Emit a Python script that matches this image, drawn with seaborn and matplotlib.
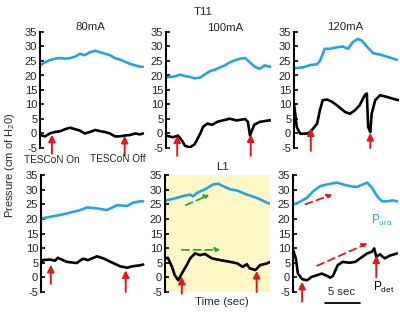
import numpy as np
import pandas as pd
import matplotlib
matplotlib.use("Agg")
import matplotlib.pyplot as plt
import seaborn as sns

sns.set_theme(style="white")
plt.rcParams['font.family'] = ['Liberation Sans', 'DejaVu Sans']
plt.rcParams['mathtext.fontset'] = 'custom'
plt.rcParams['mathtext.rm'] = 'Liberation Sans'
plt.rcParams['mathtext.it'] = 'Liberation Sans'

# ---------------- data (time in sec, pressure in cm H2O) ----------------
p1_t = [0, 0.7, 1.4, 2.1, 2.9, 3.6, 4.3, 5.0, 5.7, 6.4, 7.1, 7.9, 8.6, 9.3, 10.0, 10.7, 11.4, 12.1, 12.9, 13.6, 14.3, 14.7]
p1_ura = [23.5, 24.5, 25.3, 25.8, 26, 25.8, 26, 26.5, 27.5, 27, 28, 28.5, 28, 27.5, 27, 26, 25.5, 24.8, 24, 23.5, 23, 23]
p1_det = [-0.5, -1, 0, 0.5, 0.8, 1.5, 2, 1.5, 1, 0, 0.5, 1.2, 0.8, 0.5, 0, -1, -1, -0.7, -0.5, 0, -0.3, 0]

p2_ura_t = [0, 0.6, 1.3, 2.0, 2.7, 3.4, 4.1, 4.9, 5.6, 6.3, 7.0, 7.7, 8.4, 9.1, 9.9, 10.6, 11.3, 12.0, 12.7, 13.4, 14.1, 14.9]
p2_ura = [19.3, 19.5, 19.7, 20.3, 19.8, 19.5, 19, 19.3, 20.5, 21.5, 22, 22.8, 23.5, 24.5, 25.3, 25.8, 26, 24.5, 23, 22.3, 23.5, 23]
p2_det_t = [0, 1.0, 1.7, 2.3, 2.7, 3.4, 4.1, 4.9, 5.3, 5.9, 6.6, 7.3, 8.1, 9.1, 10.1, 11.3, 11.7, 12.0, 12.6, 13.4, 14.9]
p2_det = [-0.7, -1.3, -0.7, -2.5, -4.2, -4.8, -3.7, 0, 2.3, 3.4, 3, 4, 4.5, 5.1, 4.5, 5, 4, -0.7, 3, 4, 4.6]

p3_ura_t = [0, 1.3, 2.3, 3.3, 3.7, 4.4, 5.1, 6.1, 7.0, 7.7, 8.4, 9.1, 9.7, 10.4, 11.3, 12.3, 13.3, 14.7]
p3_ura = [22.5, 22.8, 23.6, 23.9, 25, 29.2, 29.2, 29.7, 30, 29.2, 31.5, 32.6, 32, 30, 27.7, 27.2, 26.5, 25.4]
p3_det_t = [0, 0.4, 0.9, 1.9, 2.3, 2.7, 3.3, 3.7, 4.1, 4.7, 5.4, 6.3, 7.3, 8.0, 8.7, 9.4, 10.1, 10.4, 10.6, 10.9, 11.1, 11.6, 12.3, 13.3, 14.1, 14.9]
p3_det = [10.3, 2.2, -0.1, 0, 0.5, 1.6, 3.4, 8, 11.5, 11.7, 11, 9.4, 7.4, 6.8, 8, 9.8, 13.2, 13.8, 2.2, 0.5, 6.8, 11.5, 13.2, 12.6, 12, 11.5]

p4_ura_t = [0, 1.3, 2.7, 4.1, 5.6, 6.6, 8.0, 9.4, 10.9, 12.3, 13.1, 14.1, 14.6]
p4_ura = [20.1, 20.7, 21.3, 22.1, 23, 23.9, 23.6, 23, 24.7, 24.4, 25.5, 26, 26]
p4_det_t = [0, 0.3, 1.3, 2, 2.4, 3.7, 5.1, 6, 6.7, 8, 8.9, 10.3, 11.3, 12.3, 13.1, 14.1, 14.6]
p4_det = [4.7, 5.9, 6.1, 5.7, 6.7, 5.3, 4.9, 6.4, 5.9, 7.2, 6.5, 4.9, 3.8, 3.3, 3.8, 4.1, 4.4]

p5_ura_t = [0, 1.1, 2.6, 3.6, 4, 4.6, 5.7, 6.9, 7.6, 8.3, 9.3, 10.3, 11.7, 13.1, 14.6, 15]
p5_ura = [26.3, 26.8, 27.8, 28.3, 27.7, 28.9, 30.1, 31.8, 32, 31.2, 30.1, 29.7, 28.3, 27.2, 25.5, 25.2]
p5_det_t = [0, 0.4, 1, 1.4, 1.9, 2.4, 3.1, 3.6, 4.3, 5, 5.7, 6.7, 7.9, 9.3, 10.3, 11.1, 11.7, 12.1, 12.9, 13.6, 14.6, 15]
p5_det = [6.5, 6.7, 3.6, 0.7, -1, 1.3, 4.2, 6.5, 8.2, 7.6, 8, 6.5, 5.9, 5.3, 4.8, 3.6, 4.5, 3.1, 2.5, 4.2, 4.8, 5.3]

p6_ura_t = [0, 0.7, 2, 2.9, 3.9, 4.9, 6.3, 7.1, 8.1, 9.1, 10, 10.6, 11.3, 12, 12.7, 13.4, 14.3, 15]
p6_ura = [24.9, 25.5, 27.2, 29.5, 31.2, 31.8, 32.4, 31.8, 31.2, 30.9, 31.8, 32.4, 30.6, 27.8, 26, 26, 26.3, 25.9]
p6_det_t = [0, 0.4, 0.7, 1.3, 2, 2.7, 3.4, 4.1, 4.9, 5.3, 5.7, 6.4, 7.1, 8.1, 8.9, 9.6, 10.6, 11.3, 11.6, 11.9, 12.4, 13.1, 13.9, 14.9]
p6_det = [9.4, 6.5, 1.3, -0.6, -1, 0.2, 0.7, 1.3, 0.5, -0.1, 0.5, 4.2, 5.3, 5, 5.3, 6.5, 8.2, 8.8, 9.9, 7, 7.9, 6.5, 7.5, 8.2]

# stimulus arrows: time, tip value, tail value
p1_arrows = [(1.7, -0.4, -7.0), (12.1, -0.8, -7.5)]
p2_arrows = [(1.6, -0.7, -7.7), (12.1, -0.3, -7.7)]
p3_arrows = [(2.4, 1.8, -6.0), (10.9, 0.2, -5.0)]
p4_arrows = [(1.4, 4.3, -2.2), (12.1, 2.4, -5.0)]
p5_arrows = [(2.4, 0.2, -5.6), (13.1, 2.2, -5.0)]
p6_arrows = [(1.3, -1.5, -8.3), (11.9, 7.5, 0.0)]

yticks = [-5, 0, 5, 10, 15, 20, 25, 30, 35]

BLUE = '#23a6e0'
RED = '#e8141c'
GREEN = '#2aa637'
YELLOW = '#fff8c6'

W, H = 400, 313
fig = plt.figure(figsize=(4.0, 3.13), dpi=100)

def fx(px):
    return px / W

def fy(py):
    return 1 - py / H

panel_w = 105
top_rows = (32, 148)
bot_rows = (175, 292)
lefts_top = [40, 166, 294]
lefts_bot = [41, 165, 293]

panels = [
    (lefts_top[0], top_rows, p1_t, p1_ura, p1_t, p1_det, p1_arrows, False),
    (lefts_top[1], top_rows, p2_ura_t, p2_ura, p2_det_t, p2_det, p2_arrows, False),
    (lefts_top[2], top_rows, p3_ura_t, p3_ura, p3_det_t, p3_det, p3_arrows, False),
    (lefts_bot[0], bot_rows, p4_ura_t, p4_ura, p4_det_t, p4_det, p4_arrows, False),
    (lefts_bot[1], bot_rows, p5_ura_t, p5_ura, p5_det_t, p5_det, p5_arrows, True),
    (lefts_bot[2], bot_rows, p6_ura_t, p6_ura, p6_det_t, p6_det, p6_arrows, False),
]

axes = []
for left, (ytop, ybot), ut, uv, dt, dv, arrows, shaded in panels:
    ax = fig.add_axes([fx(left), fy(ybot), panel_w / W, (ybot - ytop) / H])
    axes.append(ax)
    ax.set_facecolor(YELLOW if shaded else 'none')
    df_u = pd.DataFrame({'t': ut, 'p': uv})
    df_d = pd.DataFrame({'t': dt, 'p': dv})
    sns.lineplot(data=df_u, x='t', y='p', ax=ax, color=BLUE, lw=1.9, estimator=None, sort=False)
    sns.lineplot(data=df_d, x='t', y='p', ax=ax, color='black', lw=1.9, estimator=None, sort=False)
    for t, tip, tail in arrows:
        ax.annotate('', xy=(t, tip), xytext=(t, tail), annotation_clip=False,
                    arrowprops=dict(arrowstyle='-|>', color=RED, lw=1.4, mutation_scale=10,
                                    shrinkA=0, shrinkB=0))
    ax.set_xlim(0, 15)
    ax.set_ylim(-5, 35)
    ax.set_yticks(yticks)
    ax.set_yticklabels([str(v) for v in yticks])
    ax.set_xticks([])
    ax.set_xlabel('')
    ax.set_ylabel('')
    for s in ['top', 'right', 'bottom']:
        ax.spines[s].set_visible(False)
    ax.spines['left'].set_linewidth(1.5)
    ax.spines['left'].set_color('black')
    ax.tick_params(axis='y', direction='in', length=3, width=1.2, labelsize=8, pad=2,
                   left=True, colors='black')
    for lab in ax.get_yticklabels():
        lab.set_color('#222222')

# dashed trend arrows
ax5, ax6 = axes[4], axes[5]
ax5.annotate('', xy=(6.7, 28.6), xytext=(2.6, 24.3),
             arrowprops=dict(arrowstyle='-|>', color=GREEN, lw=1.3, ls=(0, (4, 2.5)), mutation_scale=7))
ax5.annotate('', xy=(8.3, 9.4), xytext=(2.0, 9.4),
             arrowprops=dict(arrowstyle='-|>', color=GREEN, lw=1.3, ls=(0, (4, 2.5)), mutation_scale=7))
ax6.annotate('', xy=(6.0, 28.6), xytext=(1.4, 24.7),
             arrowprops=dict(arrowstyle='-|>', color=RED, lw=1.3, ls=(0, (4, 2.5)), mutation_scale=7))
ax6.annotate('', xy=(11.0, 12.0), xytext=(3.1, 3.6),
             arrowprops=dict(arrowstyle='-|>', color=RED, lw=1.3, ls=(0, (4, 2.5)), mutation_scale=7))

# texts
fs = 8.2
fig.text(fx(203), fy(12), 'T11', ha='center', va='center', fontsize=fs)
fig.text(fx(90), fy(27), '80mA', ha='center', va='center', fontsize=fs)
fig.text(fx(225), fy(28), '100mA', ha='center', va='center', fontsize=fs)
fig.text(fx(345), fy(27), '120mA', ha='center', va='center', fontsize=fs)
fig.text(fx(222), fy(167), 'L1', ha='center', va='center', fontsize=fs)
fig.text(fx(52), fy(160), 'TESCoN On', ha='center', va='center', fontsize=7.2)
fig.text(fx(118), fy(159), 'TESCoN Off', ha='center', va='center', fontsize=7.2)
fig.text(fx(10), fy(165), 'Pressure (cm of H$_2$0)', ha='center', va='center',
         rotation=90, fontsize=8)
fig.text(fx(222), fy(302), 'Time (sec)', ha='center', va='center', fontsize=8.2)
fig.text(fx(342), fy(292), '5 sec', ha='center', va='center', fontsize=8.2)
fig.add_artist(plt.Line2D([fx(325), fx(360)], [fy(303), fy(303)], color='black', lw=1.3,
                          transform=fig.transFigure))
fig.text(fx(382), fy(220), 'P$_{ura}$', ha='center', va='center', fontsize=8.5, color=BLUE)
fig.text(fx(384), fy(287), 'P$_{det}$', ha='center', va='center', fontsize=8.5, color='black')

fig.savefig('out.png', dpi=100)
